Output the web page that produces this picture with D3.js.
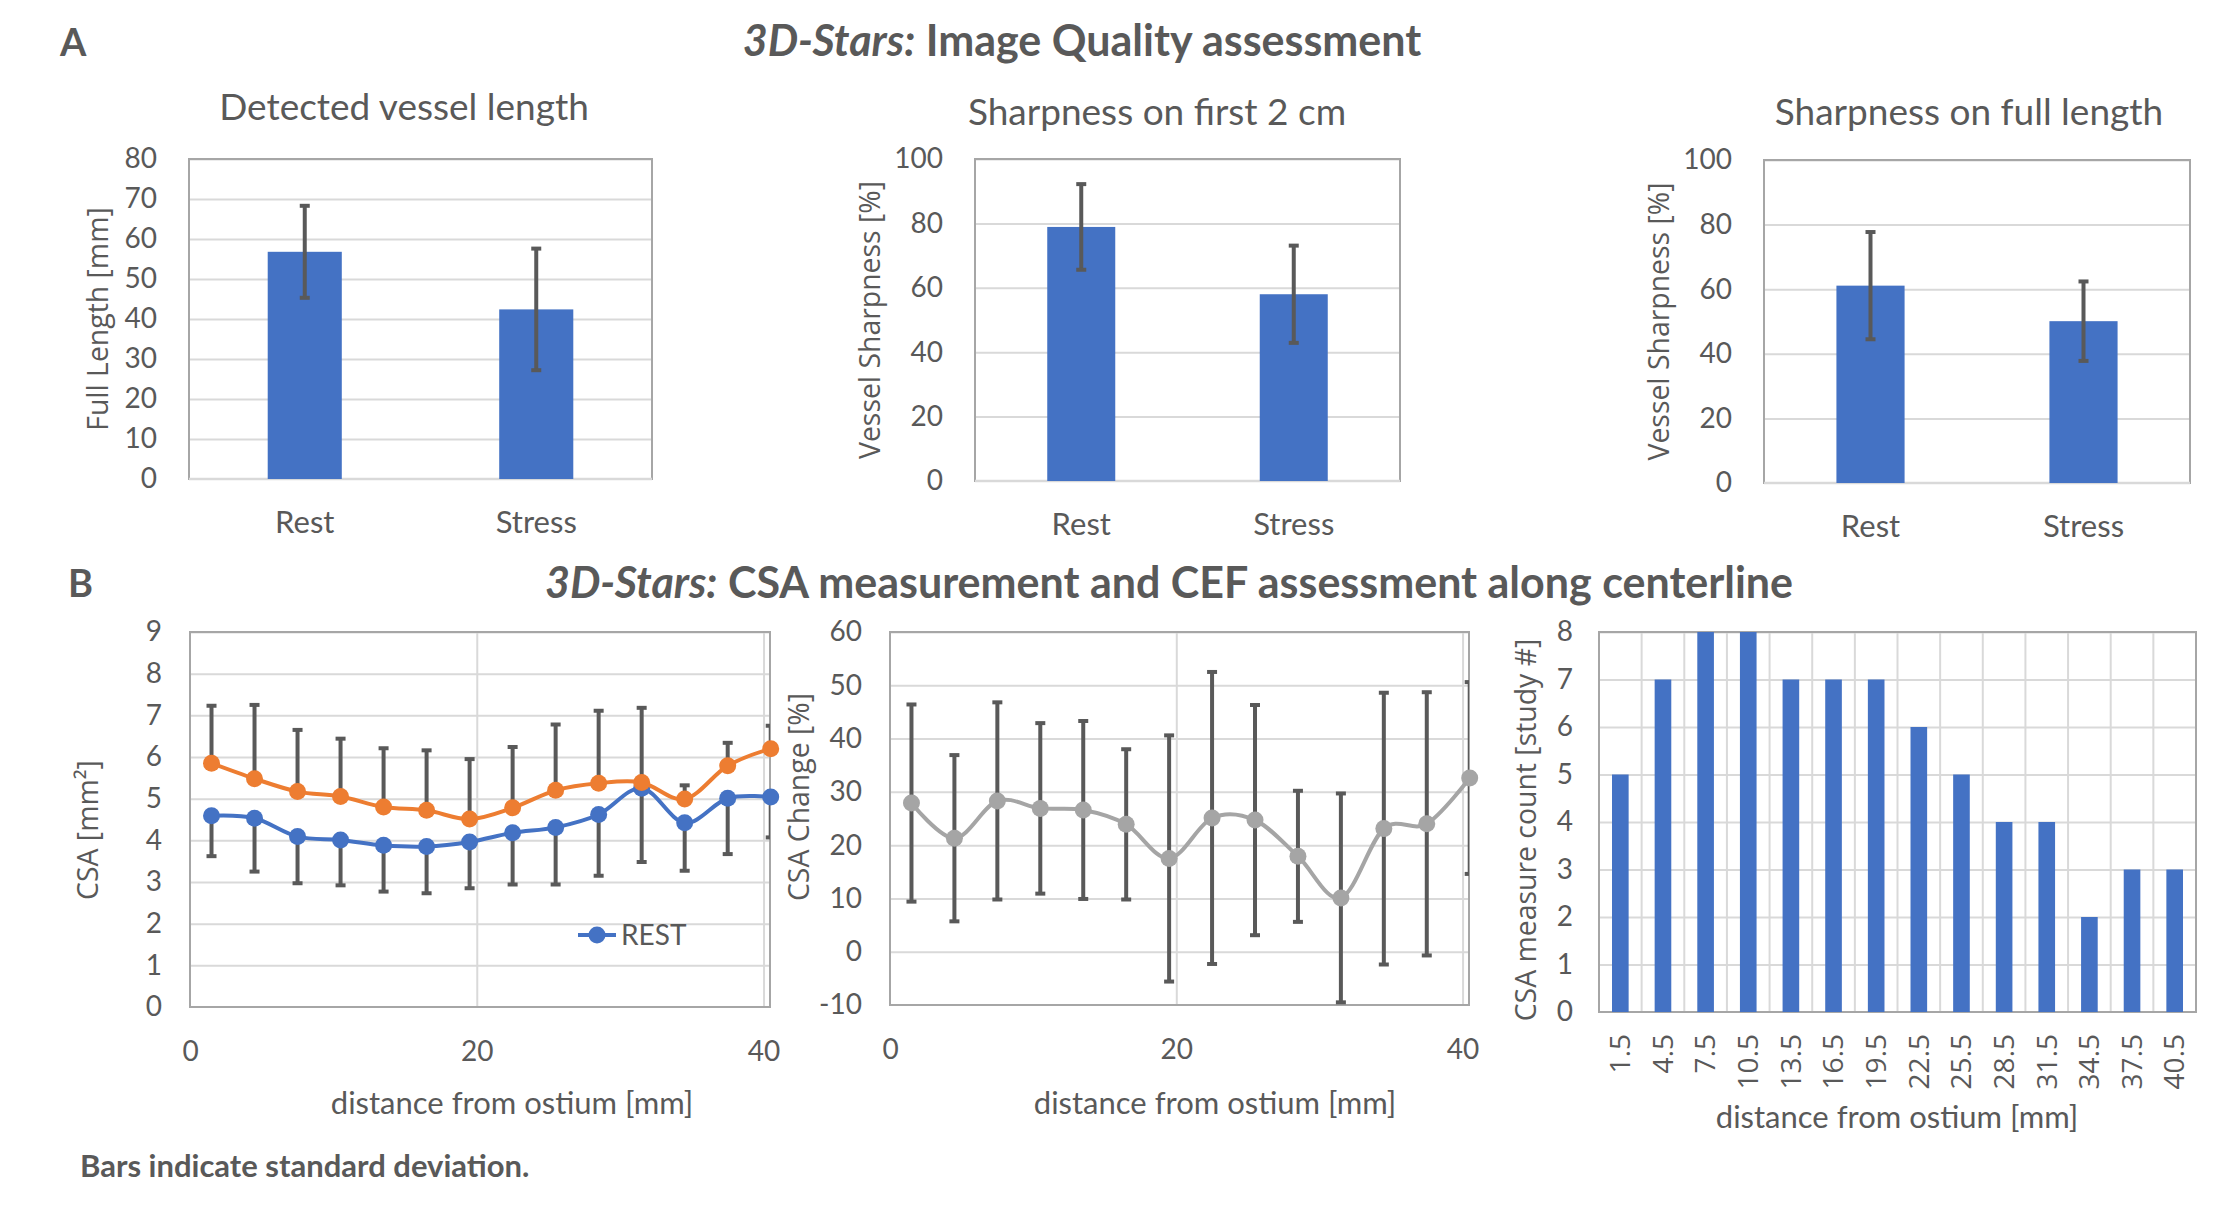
<!DOCTYPE html>
<html><head><meta charset="utf-8">
<script src="https://cdn.jsdelivr.net/npm/d3@7"></script>
<style>body{margin:0;background:#fff} svg{display:block}</style>
</head><body>
<svg id="c" width="2236" height="1207"></svg>
<script>
// ---------- DATA ----------
const groups = ["Rest", "Stress"];
const lengthMean = [56.8, 42.4];
const lengthSD = [11.5, 15.2];
const sharp2cmMean = [78.9, 58.0];
const sharp2cmSD = [13.3, 15.1];
const sharpFullMean = [61.1, 50.1];
const sharpFullSD = [16.6, 12.3];

const distance = [1.5, 4.5, 7.5, 10.5, 13.5, 16.5, 19.5, 22.5, 25.5, 28.5, 31.5, 34.5, 37.5, 40.5];
const csaRest = [4.59, 4.53, 4.09, 4.01, 3.88, 3.85, 3.96, 4.18, 4.31, 4.62, 5.25, 4.42, 5.01, 5.04];
const csaRestSD = [0.97, 1.28, 1.12, 1.09, 1.11, 1.12, 1.11, 1.24, 1.37, 1.47, 1.77, 1.15, 1.34, 0.97];
const csaStress = [5.85, 5.48, 5.17, 5.05, 4.80, 4.72, 4.51, 4.78, 5.20, 5.37, 5.39, 4.99, 5.79, 6.20];
const csaStressSD = [1.38, 1.77, 1.48, 1.39, 1.41, 1.44, 1.44, 1.46, 1.58, 1.74, 1.79, 0.33, 0.55, 0.55];
const csaChange = [27.9, 21.3, 28.3, 26.9, 26.6, 23.9, 17.5, 25.1, 24.7, 17.9, 10.1, 23.1, 24.0, 32.6];
const csaChangeSD = [18.5, 15.6, 18.5, 16.0, 16.7, 14.1, 23.1, 27.4, 21.6, 12.3, 19.6, 25.5, 24.7, 18.0];
const countLabels = ["1.5", "4.5", "7.5", "10.5", "13.5", "16.5", "19.5", "22.5", "25.5", "28.5", "31.5", "34.5", "37.5", "40.5"];
const measureCount = [5, 7, 8, 8, 7, 7, 7, 6, 5, 4, 4, 2, 3, 3];

// ---------- STYLE ----------
const CAL = "Lato, Carlito, Calibri, sans-serif";
const SEG = "'Open Sans', 'Segoe UI', sans-serif";
const TXT = "#595959", GRID = "#D9D9D9", BORDER = "#A6A6A6", BLUE = "#4472C4",
      ORANGE = "#ED7D31", GRAY = "#A5A5A5", ERR = "#595959";
const AXT = 28.4;   // axis title size
const plain = d => String(d);

const svg = d3.select("#c");

function label(x, y, str, o = {}) {
  const t = svg.append("text").attr("x", x).attr("y", y).text(str)
    .attr("fill", o.fill || TXT)
    .attr("font-family", o.family || CAL)
    .attr("font-size", o.size || 28)
    .attr("font-weight", o.weight || "normal")
    .attr("text-anchor", o.anchor || "middle");
  if (o.rotate) t.attr("transform", `rotate(-90,${x},${y})`);
  return t;
}

function styleTicks(sel, size, family) {
  sel.select(".domain").remove();
  sel.selectAll("text").attr("fill", TXT).attr("font-size", size).attr("font-family", family);
}

function gridH(p, y, vals) {
  svg.append("g").attr("transform", `translate(${p.x0},0)`)
    .call(d3.axisLeft(y).tickValues(vals).tickSize(-(p.x1 - p.x0)).tickFormat(""))
    .call(s => { s.select(".domain").remove(); s.selectAll("line").attr("stroke", GRID).attr("stroke-width", 2); });
}

function border(p) {
  svg.append("rect").attr("x", p.x0).attr("y", p.y0).attr("width", p.x1 - p.x0).attr("height", p.y1 - p.y0)
    .attr("fill", "none").attr("stroke", BORDER).attr("stroke-width", 2);
}

function errBar(g, x, yTop, yBot, cap, clip) {
  const e = g.append("g").attr("stroke", ERR).attr("stroke-width", 4);
  if (clip) e.attr("clip-path", clip);
  e.append("line").attr("x1", x).attr("x2", x).attr("y1", yTop).attr("y2", yBot);
  e.append("line").attr("x1", x - cap).attr("x2", x + cap).attr("y1", yTop).attr("y2", yTop);
  e.append("line").attr("x1", x - cap).attr("x2", x + cap).attr("y1", yBot).attr("y2", yBot);
}

// ---------- PANEL A: bar charts ----------
function barPanel(p, means, sds, yMax, yStep, title, ytitle) {
  const x = d3.scaleBand().domain(groups).range([p.x0, p.x1]);
  const y = d3.scaleLinear().domain([0, yMax]).range([p.y1, p.y0]);
  gridH(p, y, d3.range(yStep, yMax + 0.001, yStep));
  border(p);
  svg.append("line").attr("x1", p.x0).attr("x2", p.x1).attr("y1", y(0)).attr("y2", y(0))
    .attr("stroke", GRID).attr("stroke-width", 2.5);
  const bw = x.bandwidth() * 0.32;
  svg.append("g").selectAll("rect").data(groups).join("rect")
    .attr("x", d => x(d) + x.bandwidth() / 2 - bw / 2)
    .attr("y", (d, i) => y(means[i]))
    .attr("width", bw)
    .attr("height", (d, i) => y(0) - y(means[i]))
    .attr("fill", BLUE);
  const eg = svg.append("g");
  groups.forEach((d, i) => errBar(eg, x(d) + x.bandwidth() / 2, y(means[i] + sds[i]), y(means[i] - sds[i]), 5));
  svg.append("g").attr("transform", `translate(${p.x0},0)`)
    .call(d3.axisLeft(y).tickValues(d3.range(0, yMax + 0.001, yStep)).tickFormat(plain).tickSize(0).tickPadding(32))
    .call(s => styleTicks(s, 28, CAL));
  svg.append("g").attr("transform", `translate(0,${p.y1})`)
    .call(d3.axisBottom(x).tickSize(0).tickPadding(32))
    .call(s => styleTicks(s, 31, CAL));
  label(p.titleX, p.titleY, title, { size: 37 });
  label(p.ytX, (p.y0 + p.y1) / 2, ytitle, { family: SEG, size: AXT, rotate: true });
}

// main titles
label(60, 56, "A", { size: 38, weight: "bold", anchor: "start" });
const tA = svg.append("text").attr("x", 1082).attr("y", 56).attr("text-anchor", "middle")
  .attr("font-family", CAL).attr("font-size", 43).attr("font-weight", "bold").attr("fill", TXT);
tA.append("tspan").attr("font-style", "italic").text("3D-Stars:");
tA.append("tspan").text(" Image Quality assessment");

label(68, 597, "B", { size: 38, weight: "bold", anchor: "start" });
const tB = svg.append("text").attr("x", 1169).attr("y", 598).attr("text-anchor", "middle")
  .attr("font-family", CAL).attr("font-size", 43).attr("font-weight", "bold").attr("fill", TXT);
tB.append("tspan").attr("font-style", "italic").text("3D-Stars:");
tB.append("tspan").text(" CSA measurement and CEF assessment along centerline");

barPanel({ x0: 189, x1: 652, y0: 159, y1: 479, titleX: 404, titleY: 120, ytX: 108 },
  lengthMean, lengthSD, 80, 10, "Detected vessel length", "Full Length [mm]");
barPanel({ x0: 975, x1: 1400, y0: 159, y1: 481, titleX: 1157, titleY: 125, ytX: 880 },
  sharp2cmMean, sharp2cmSD, 100, 20, "Sharpness on first 2 cm", "Vessel Sharpness [%]");
barPanel({ x0: 1764, x1: 2190, y0: 160, y1: 483, titleX: 1969, titleY: 125, ytX: 1669 },
  sharpFullMean, sharpFullSD, 100, 20, "Sharpness on full length", "Vessel Sharpness [%]");

// ---------- PANEL B ----------
const curve = d3.curveCatmullRom.alpha(0);

function linePanelFrame(p, yMin, yMax, yStep, id) {
  const x = d3.scaleLinear().domain([0, 40.45]).range([p.x0, p.x1]);
  const y = d3.scaleLinear().domain([yMin, yMax]).range([p.y1, p.y0]);
  gridH(p, y, d3.range(yMin + yStep, yMax + 0.001, yStep));
  svg.append("g").attr("transform", `translate(0,${p.y0})`)
    .call(d3.axisBottom(x).tickValues([20, 40]).tickSize(p.y1 - p.y0).tickFormat(""))
    .call(s => { s.select(".domain").remove(); s.selectAll("line").attr("stroke", GRID).attr("stroke-width", 2); });
  border(p);
  svg.append("g").attr("transform", `translate(${p.x0},0)`)
    .call(d3.axisLeft(y).tickValues(d3.range(yMin, yMax + 0.001, yStep)).tickFormat(plain).tickSize(0).tickPadding(28))
    .call(s => styleTicks(s, 28, CAL));
  svg.append("g").attr("transform", `translate(0,${p.y1})`)
    .call(d3.axisBottom(x).tickValues([0, 20, 40]).tickFormat(plain).tickSize(0).tickPadding(34))
    .call(s => styleTicks(s, 28, CAL));
  svg.append("clipPath").attr("id", id).append("rect")
    .attr("x", p.x0).attr("y", p.y0 - 20).attr("width", p.x1 - p.x0).attr("height", p.y1 - p.y0 + 40);
  return { x, y };
}

function series(sc, vals, color) {
  const pts = distance.map((d, i) => [d, vals[i]]);
  svg.append("path").attr("d", d3.line().x(d => sc.x(d[0])).y(d => sc.y(d[1])).curve(curve)(pts))
    .attr("fill", "none").attr("stroke", color).attr("stroke-width", 4);
  svg.append("g").selectAll("circle").data(pts).join("circle")
    .attr("cx", d => sc.x(d[0])).attr("cy", d => sc.y(d[1])).attr("r", 8.5).attr("fill", color);
}

// B1: CSA
const p1 = { x0: 190, x1: 770, y0: 632, y1: 1007 };
const s1 = linePanelFrame(p1, 0, 9, 1, "clip1");
const eb1 = svg.append("g");
distance.forEach((d, i) => {
  errBar(eb1, s1.x(d), s1.y(csaStress[i] + csaStressSD[i]), s1.y(csaStress[i]), 5, "url(#clip1)");
  errBar(eb1, s1.x(d), s1.y(csaRest[i]), s1.y(csaRest[i] - csaRestSD[i]), 5, "url(#clip1)");
});
series(s1, csaRest, BLUE);
series(s1, csaStress, ORANGE);
// legend
svg.append("line").attr("x1", 578).attr("x2", 616).attr("y1", 935).attr("y2", 935).attr("stroke", BLUE).attr("stroke-width", 4);
svg.append("circle").attr("cx", 597).attr("cy", 935).attr("r", 8.5).attr("fill", BLUE);
label(621, 945, "REST", { anchor: "start", size: 28 });
label(512, 1114, "distance from ostium [mm]", { size: 31 });
label(98, 830, "CSA [mm²]", { family: SEG, size: AXT, rotate: true });

// B2: CSA change
const p2 = { x0: 890, x1: 1469, y0: 632, y1: 1005 };
const s2 = linePanelFrame(p2, -10, 60, 10, "clip2");
const eb2 = svg.append("g");
distance.forEach((d, i) => {
  errBar(eb2, s2.x(d), s2.y(csaChange[i] + csaChangeSD[i]), s2.y(csaChange[i] - csaChangeSD[i]), 5, "url(#clip2)");
});
series(s2, csaChange, GRAY);
label(1215, 1114, "distance from ostium [mm]", { size: 31 });
label(809, 797, "CSA Change [%]", { family: SEG, size: AXT, rotate: true });

// B3: measure count
const p3 = { x0: 1599, x1: 2196, y0: 632, y1: 1012 };
const x3 = d3.scaleBand().domain(countLabels).range([p3.x0, p3.x1]);
const y3 = d3.scaleLinear().domain([0, 8]).range([p3.y1, p3.y0]);
gridH(p3, y3, d3.range(1, 8.001, 1));
svg.append("g").selectAll("line").data(countLabels.slice(1)).join("line")
  .attr("x1", d => x3(d)).attr("x2", d => x3(d)).attr("y1", p3.y0).attr("y2", p3.y1)
  .attr("stroke", GRID).attr("stroke-width", 2);
border(p3);
const bw3 = x3.bandwidth() * 0.39;
svg.append("g").selectAll("rect").data(countLabels).join("rect")
  .attr("x", d => x3(d) + x3.bandwidth() / 2 - bw3 / 2)
  .attr("y", (d, i) => y3(measureCount[i]))
  .attr("width", bw3)
  .attr("height", (d, i) => y3(0) - y3(measureCount[i]))
  .attr("fill", BLUE);
svg.append("g").attr("transform", `translate(${p3.x0},0)`)
  .call(d3.axisLeft(y3).tickValues(d3.range(0, 8.001, 1)).tickFormat(plain).tickSize(0).tickPadding(26))
  .call(s => styleTicks(s, 28, CAL));
svg.append("g").attr("transform", `translate(0,${p3.y1})`)
  .call(d3.axisBottom(x3).tickSize(0))
  .call(s => {
    styleTicks(s, 28, SEG);
    s.selectAll("text").attr("transform", "rotate(-90)").attr("text-anchor", "end")
      .attr("x", -22).attr("y", 0).attr("dy", "0.35em");
  });
label(1897, 1128, "distance from ostium [mm]", { size: 31 });
label(1536, 830, "CSA measure count [study #]", { family: SEG, size: AXT, rotate: true });

// footnote
label(80, 1177, "Bars indicate standard deviation.", { anchor: "start", size: 31, weight: "bold" });
</script>
</body></html>
